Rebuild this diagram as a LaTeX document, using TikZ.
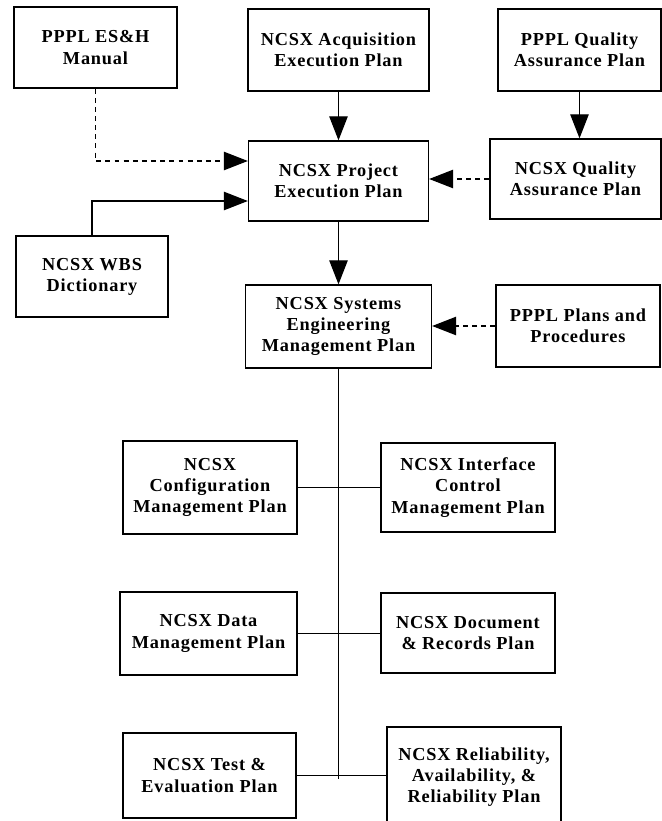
\documentclass[tikz,border=0pt]{standalone}
\usepackage{fontspec}
\newfontfamily\planfont{Liberation Serif}[LetterSpace=4.5]
\usepackage{tikz}
\usetikzlibrary{
    calc,
    arrows.meta
}
\tikzset{
    plan/.style={draw, line width=0.9pt, align=center, inner sep=0pt,
        font=\planfont\fontsize{13}{15}\selectfont\bfseries},
    boxsize/.style 2 args={minimum width=#1, minimum height=#2},
    flow/.style={line width=0.9pt, -{Triangle[length=0.6cm, width=0.46cm]}},
    weak/.style={flow, dash pattern=on 3.5pt off 3pt}
}

\begin{document}
\begin{tikzpicture}[x=0.025cm, y=0.025cm]
        \useasboundingbox (0,0) rectangle (662,-821);

        % top row
        \draw (95.5,-47.5) node[plan, boxsize={4.075cm}{2.025cm}](esh){PPPL ES\&H\\Manual};
        \draw (338.5,-50) node[plan, boxsize={4.525cm}{2.05cm}](acq){NCSX Acquisition\\Execution Plan};
        \draw (579.5,-50) node[plan, boxsize={4.075cm}{2.05cm}](pqa){PPPL Quality\\Assurance Plan};

        \draw (338.5,-181) node[plan, boxsize={4.5cm}{2.0cm}](pep){NCSX Project\\Execution Plan};
        \draw (575.5,-179) node[plan, boxsize={4.275cm}{2.0cm}](nqa){NCSX Quality\\Assurance Plan};
        \draw (92,-276.5) node[plan, boxsize={3.8cm}{2.025cm}](wbs){NCSX WBS\\Dictionary};

        \draw (338.5,-326.5) node[plan, boxsize={4.65cm}{2.075cm}](semp){NCSX Systems\\Engineering\\Management Plan};
        \draw (578,-326) node[plan, boxsize={4.1cm}{2.05cm}](ppp){PPPL Plans and\\Procedures};

        % plans under the SEMP
        \draw (210,-487.5) node[plan, boxsize={4.35cm}{2.325cm}](cmp){NCSX\\Configuration\\Management Plan};
        \draw (468,-487.5) node[plan, boxsize={4.35cm}{2.225cm}](icmp){NCSX Interface\\Control\\Management Plan};
        \draw (208.5,-633.5) node[plan, boxsize={4.425cm}{2.075cm}](dmp){NCSX Data\\Management Plan};
        \draw (468,-633) node[plan, boxsize={4.35cm}{2.0cm}](drp){NCSX Document\\\& Records Plan};
        \draw (209.5,-775.5) node[plan, boxsize={4.325cm}{2.125cm}](tep){NCSX Test \&\\Evaluation Plan};
        \draw (474,-777) node[plan, boxsize={4.35cm}{2.5cm}](rap){NCSX Reliability,\\Availability, \&\\Reliability Plan};

        \coordinate (spine) at (338.5,-779);

        \draw[flow] (acq) to (pep);
        \draw[flow] (pqa.south) to (pqa.south |- nqa.north);
        \draw[flow] (pep) to (semp);
        \draw[weak] (esh.south) |- ([yshift=0.5cm]pep.west);
        \draw[flow] (wbs.north) |- ([yshift=-0.5cm]pep.west);
        \draw[weak] (nqa.west) to (nqa.west -| pep.east);
        \draw[weak] (ppp.west) to (ppp.west -| semp.east);

        \draw[line width=0.9pt] (semp.south) to (spine);
        \draw[line width=0.9pt] (cmp.east) to (icmp.west);
        \draw[line width=0.9pt] (dmp.east) to (dmp.east -| drp.west);
        \draw[line width=0.9pt] (tep.east) to (tep.east -| rap.west);
    \end{tikzpicture}
\end{document}
